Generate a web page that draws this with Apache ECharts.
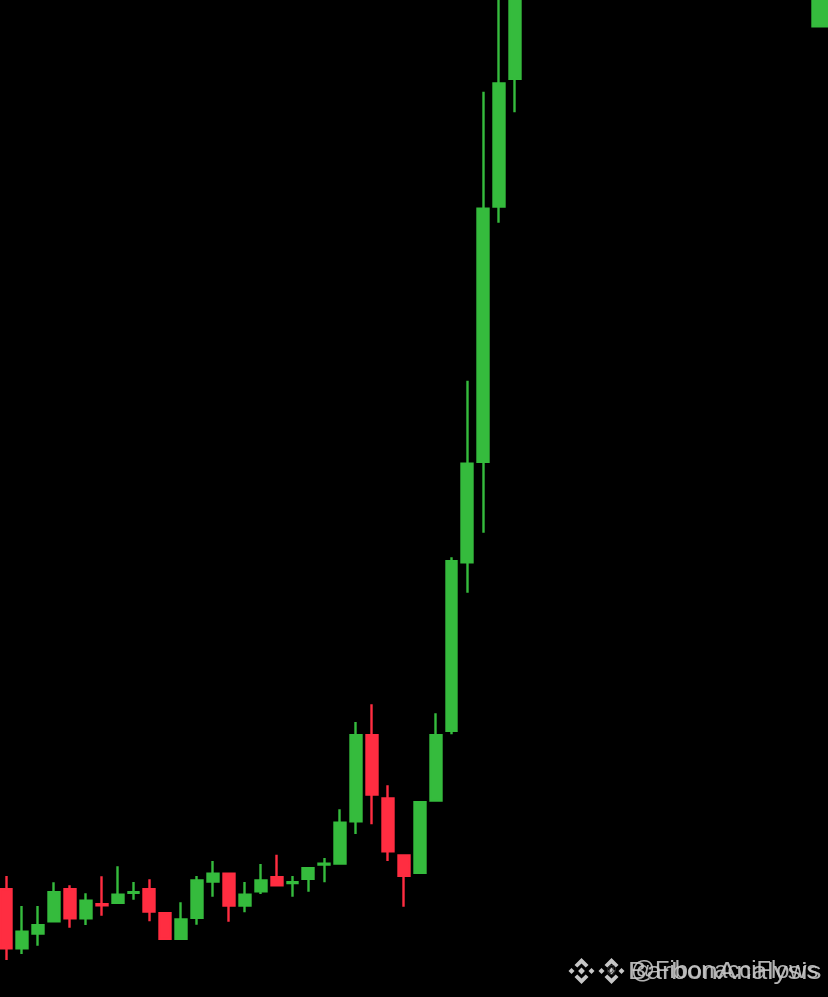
<!DOCTYPE html>
<html><head><meta charset="utf-8">
<style>html,body{margin:0;padding:0;background:#000}#c{width:828px;height:997px}</style>
<script src="https://cdn.jsdelivr.net/npm/echarts@6/dist/echarts.min.js"></script>
</head><body><div id="c"></div>
<script>
const positions=[0,1,2,3,4,5,6,7,8,9,10,11,12,13,14,15,16,17,18,19,20,21,22,23,24,25,26,27,28,29,30,31,32];
const opens=[109,47.7,62.3,74.7,109,77.7,94,93,103.7,109,85,57,78,114.3,124.3,90.3,104.7,121,113.3,117,132,132.3,174.7,263,199.7,142.7,123,195.3,265,433.7,534,789.3,917];
const closes=[47.7,66.3,73,106,77.7,97.3,90.7,103.3,105.3,84.3,57,78.7,117.7,124.3,90.3,103.3,117.7,110.7,115.3,130,133.7,175.3,263,201.3,144.7,120,196,263,437,534.3,789.3,914.7,1060];
const lows=[37,43,51.3,74.7,69.3,72,81.3,93,97.3,75.7,57,57,72.3,100.3,75.3,84.7,103,110.7,100.3,105.3,114.7,132.3,163,172.7,136,90.3,123,195.3,262.7,404.3,464.3,774.3,884.7];
const highs=[121,91,91,114.7,111.7,103.7,120.7,130.7,115,117.7,85,94.7,121,136,124.3,115,133,142.3,121,130,139,187.7,275,292.7,211.7,142.7,196,283.7,439.7,616.3,905.3,1020,1060];
const lastPosition=[51.19], lastOpen=[969.5], lastClose=[1040], lastLow=[969.5], lastHigh=[1040];
const up='#35BB3D', down='#FF2D41';
const inset=1.1;
const rows=(x,o,c,l,h)=>x.map((v,i)=>{
  const mid=(o[i]+c[i])/2, s=c[i]>=o[i]?1:-1, half=Math.max(Math.abs(c[i]-o[i])/2-inset,0.4);
  return [v,mid-s*half,mid+s*half,l[i],h[i]];
});
const style={color:up,color0:down,borderColor:up,borderColor0:down,borderWidth:2.4};
const chart=echarts.init(document.getElementById('c'),null,{renderer:'canvas'});
const grey='#c6c6c6';
const poly=(cx,cy,pts)=>({type:'polygon',silent:true,shape:{points:pts.map(p=>[cx+p[0],cy+p[1]])},style:{fill:grey}});
const chevron=[[0,-13],[7,-6],[4.2,-3.4],[0,-7.4],[-4.2,-3.4],[-7,-6]];
const logo=(cx,cy)=>[
 poly(cx,cy,chevron), poly(cx,cy,chevron.map(p=>[p[0],-p[1]])),
 poly(cx,cy,[[-13,0],[-10,-3],[-7,0],[-10,3]]), poly(cx,cy,[[13,0],[10,-3],[7,0],[10,3]]),
 poly(cx,cy,[[0,-3.4],[3.4,0],[0,3.4],[-3.4,0]])
];
chart.setOption({
 animation:false,backgroundColor:'#000',
 grid:{left:0,right:0,top:0,bottom:0},
 xAxis:{type:'value',min:-0.396,max:51.68,show:false},
 yAxis:{type:'value',min:0,max:997,show:false},
 series:[
  {type:'candlestick',barWidth:11.4,itemStyle:style,encode:{x:0,y:[1,2,3,4]},data:rows(positions,opens,closes,lows,highs)},
  {type:'candlestick',barWidth:15,itemStyle:style,encode:{x:0,y:[1,2,3,4]},data:rows(lastPosition,lastOpen,lastClose,lastLow,lastHigh)}
 ],
 graphic:[...logo(581.5,971),...logo(611.5,971),
  {type:'text',x:606.5,y:965,silent:true,z:5,style:{text:'@',fill:'#333',font:'10px "Liberation Sans"'}},
  {type:'text',x:631,y:960,scaleX:1.03,silent:true,style:{text:'@FibonacciFlows',fill:grey,font:'23px "Liberation Sans"',opacity:.9}},
  {type:'text',x:628,y:960,scaleX:1.16,silent:true,style:{text:'BarbonAnalysis',fill:grey,font:'24px "Liberation Sans"',opacity:.9}}
 ]
});
</script></body></html>
